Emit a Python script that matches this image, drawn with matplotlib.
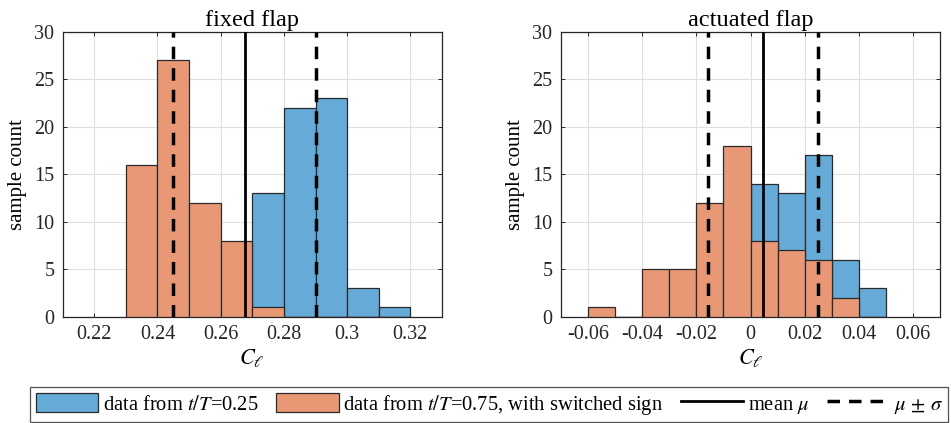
import numpy as np
import matplotlib
matplotlib.use("Agg")
import matplotlib.pyplot as plt
from matplotlib.patches import Patch
from matplotlib.lines import Line2D
from matplotlib.ticker import FormatStrFormatter, MultipleLocator

plt.rcParams['font.family'] = ['Liberation Serif', 'DejaVu Serif']
plt.rcParams['mathtext.fontset'] = 'stix'
plt.rcParams['axes.unicode_minus'] = False

# ---------------- data ----------------
titles = ["fixed flap", "actuated flap"]

fixed_edges = [0.23, 0.24, 0.25, 0.26, 0.27, 0.28, 0.29, 0.30, 0.31, 0.32]
fixed_t025 = [0, 0, 0, 0, 13, 22, 23, 3, 1]
fixed_t075 = [16, 27, 12, 8, 1, 0, 0, 0, 0]
fixed_mean = 0.2676
fixed_std = 0.0226

act_edges = [-0.06, -0.05, -0.04, -0.03, -0.02, -0.01, 0.0, 0.01, 0.02, 0.03, 0.04, 0.05]
act_t025 = [0, 0, 0, 0, 0, 0, 14, 13, 17, 6, 3]
act_t075 = [1, 0, 5, 5, 12, 18, 8, 7, 6, 2, 0]
act_mean = 0.0046
act_std = 0.0203

fixed_xlim = (0.21, 0.33)
act_xlim = (-0.07, 0.07)
fixed_xticks = [0.22, 0.24, 0.26, 0.28, 0.30, 0.32]
act_xticks = [-0.06, -0.04, -0.02, 0.0, 0.02, 0.04, 0.06]

legend_labels = [r"data from $t/T$=0.25",
                 r"data from $t/T$=0.75, with switched sign",
                 r"mean $\mu$", r"$\mu\,\pm\,\sigma$"]

# ---------------- style ----------------
blue = "#66AAD7"
orange = "#E89875"
edge = "#2a2a2a"
grid_c = "#E0E0E0"
axis_c = "#262626"
fs = 14.5

fig = plt.figure(figsize=(9.51, 4.23), dpi=100)
ax1 = fig.add_axes([0.0659, 0.2513, 0.3988, 0.6731])
ax2 = fig.add_axes([0.5896, 0.2513, 0.3992, 0.6731])

panels = [
    (ax1, fixed_edges, fixed_t025, fixed_t075, fixed_mean, fixed_std, fixed_xlim, fixed_xticks),
    (ax2, act_edges, act_t025, act_t075, act_mean, act_std, act_xlim, act_xticks),
]

for i, (ax, edges, c025, c075, mu, sd, xlim, xticks) in enumerate(panels):
    e = np.array(edges)
    w = np.diff(e)
    ax.bar(e[:-1], c025, width=w, align='edge', color=blue, edgecolor=edge,
           linewidth=0.9, zorder=2)
    ax.bar(e[:-1], c075, width=w, align='edge', color=orange, edgecolor=edge,
           linewidth=0.9, zorder=3)
    ax.axvline(mu, color='black', lw=2.0, zorder=4)
    for v in (mu - sd, mu + sd):
        ax.axvline(v, color='black', lw=2.5, dashes=(3.6, 2.6), zorder=4)
    ax.set_xlim(*xlim)
    ax.set_ylim(0, 30)
    ax.set_xticks(xticks)
    ax.xaxis.set_major_formatter(FormatStrFormatter('%g'))
    ax.yaxis.set_major_locator(MultipleLocator(5))
    ax.grid(True, color=grid_c, lw=0.8)
    ax.set_axisbelow(True)
    ax.tick_params(direction='in', top=True, right=True, length=3.0, width=0.7,
                   colors=axis_c, labelcolor='#262626', labelsize=fs, pad=6)
    for s in ax.spines.values():
        s.set_color(axis_c)
        s.set_linewidth(0.9)
    ax.set_title(titles[i], fontsize=17.5, pad=4)
    ax.set_ylabel("sample count", fontsize=fs + 0.5, labelpad=5)
    ax.set_xlabel(r"$C_\ell$", fontsize=fs + 1.5, labelpad=2)

handles = [Patch(facecolor=blue, edgecolor=edge, linewidth=0.9),
           Patch(facecolor=orange, edgecolor=edge, linewidth=0.9),
           Line2D([], [], color='black', lw=2.0),
           Line2D([], [], color='black', lw=2.5, dashes=(3.6, 2.6))]
leg = fig.legend(handles, legend_labels, loc='center', bbox_to_anchor=(0.5147, 0.0437),
                 ncol=4, fontsize=14.8, frameon=True, fancybox=False,
                 edgecolor='#262626', handlelength=3.05, handleheight=1.0,
                 handletextpad=0.22, columnspacing=0.85, borderpad=0.25,
                 borderaxespad=0.0)
leg.get_frame().set_linewidth(0.9)

fig.savefig("out.png", dpi=100)
